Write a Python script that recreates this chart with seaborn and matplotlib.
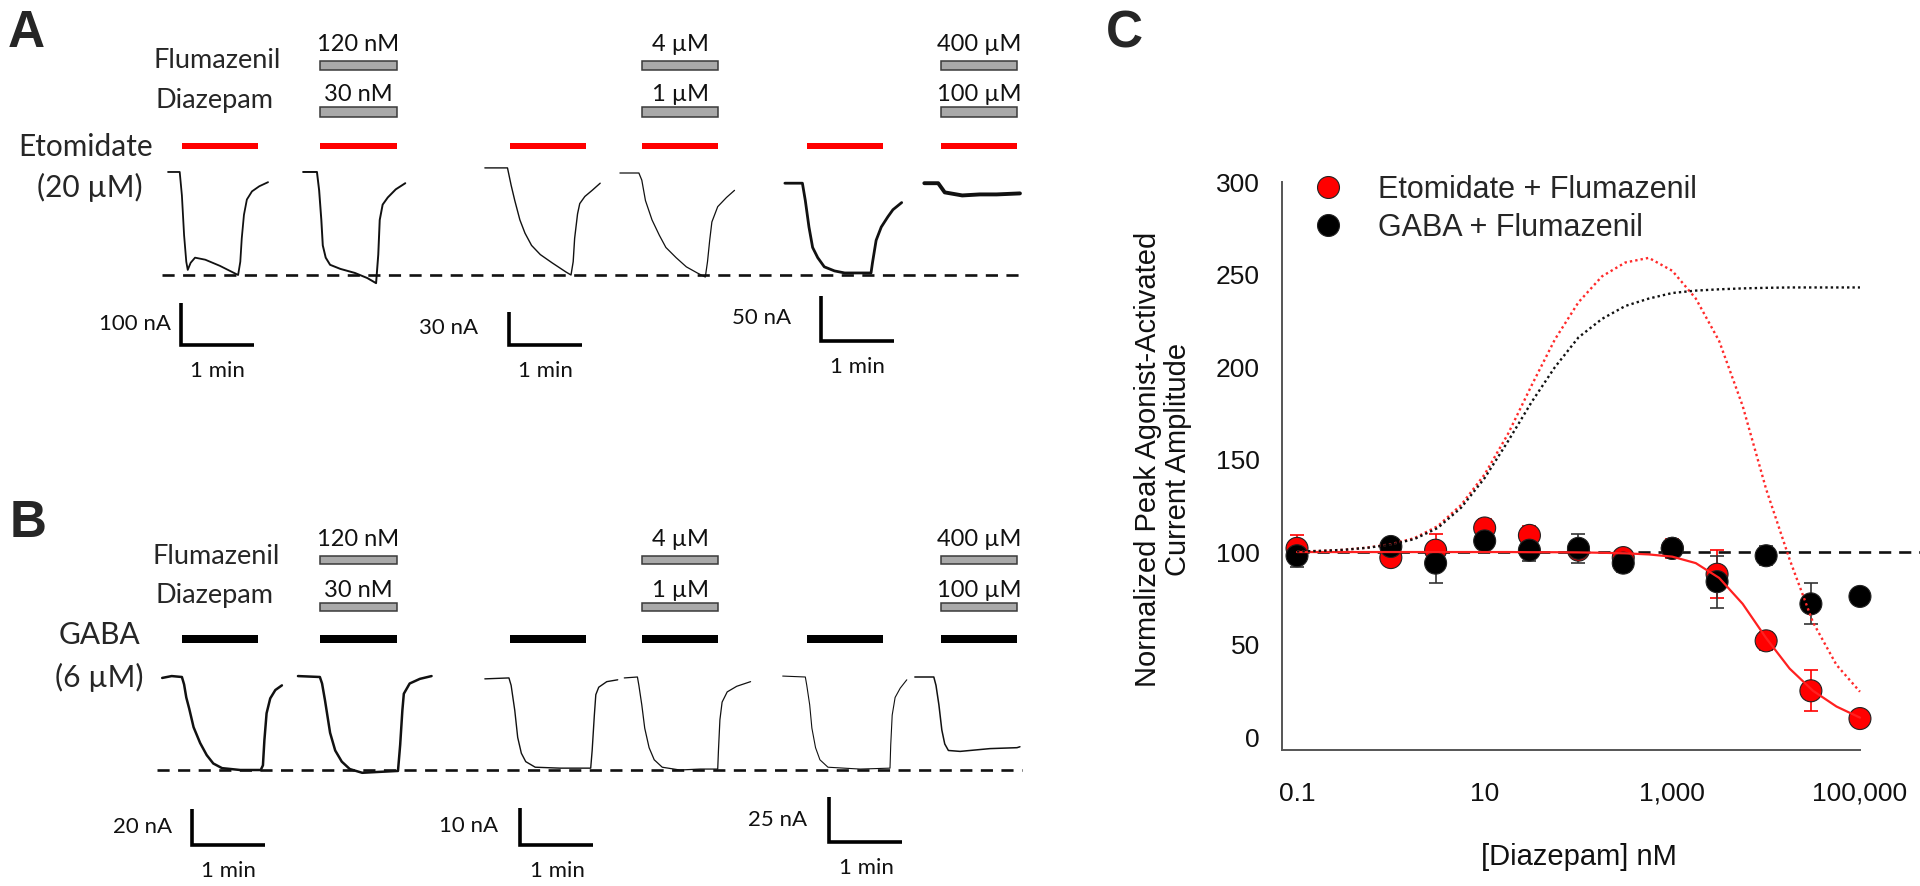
import matplotlib
matplotlib.use("Agg")
import matplotlib.pyplot as plt
from matplotlib.lines import Line2D
import pandas as pd
import seaborn as sns

# ---------------- panel C: diazepam concentration-response ----------------
conc_nm = [0.1, 1, 3, 10, 30, 100, 300, 1000, 3000, 10000, 30000, 100000]
etomidate_mean = [102, 97, 101, 113, 109, 101, 97, 102, 88, 52, 25, 10]
etomidate_sd = [7, 4, 9, 5, 5, 4, 4, 5, 13, 5, 11, 2]
gaba_mean = [98, 103, 94, 106, 101, 102, 94, 102, 84, 98, 72, 76]
gaba_sd = [6, 4, 11, 4, 6, 8, 5, 4, 14, 5, 11, 0]

# fitted / predicted curves at quarter decades
fit_conc = [0.1, 0.178, 0.316, 0.562, 1, 1.78, 3.16, 5.62, 10, 17.8, 31.6, 56.2,
            100, 178, 316, 562, 1000, 1780, 3160, 5620, 10000, 17800, 31600, 56200, 100000]
etomidate_fit = [100, 100, 100, 100, 100, 100, 100, 100, 100, 100, 99.9, 99.9,
                 99.8, 99.6, 99.3, 98.7, 97.5, 94, 86, 72, 53.5, 37, 25, 16.5, 10.5]
etomidate_predicted = [100.3, 100.6, 101.2, 102.4, 104.2, 107.5, 114, 125.5, 142, 164, 190, 215,
                       235, 249, 256.5, 259, 252, 237, 214, 179, 134, 96, 62, 39, 24.5]
gaba_predicted = [100.3, 100.6, 101.2, 102.3, 104, 107, 113, 124, 140, 160, 181, 200,
                  216, 226, 233, 237, 240, 241.3, 242, 242.5, 242.8, 243, 243, 243, 243]

# ---------------- panels A/B: current traces ----------------
# time in min, current as a fraction of the control peak (negative = inward)
etomidate_t = [
    [0.11, 0.27, 0.30, 0.33, 0.36, 0.38, 0.42, 0.48, 0.62, 0.82, 1.07, 1.10, 1.12, 1.15, 1.19, 1.26, 1.36, 1.48],
    [1.96, 2.15, 2.18, 2.21, 2.23, 2.27, 2.33, 2.47, 2.67, 2.84, 2.96, 2.99, 3.01, 3.05, 3.12, 3.23, 3.36],
    [4.45, 4.76, 4.81, 4.86, 4.93, 5.00, 5.09, 5.21, 5.37, 5.56, 5.63, 5.66, 5.68, 5.72, 5.75, 5.82, 5.92, 6.03],
    [6.30, 6.56, 6.60, 6.65, 6.74, 6.84, 6.93, 7.07, 7.21, 7.36, 7.47, 7.50, 7.53, 7.56, 7.64, 7.76, 7.87],
    [8.56, 8.80, 8.84, 8.89, 8.94, 9.01, 9.10, 9.24, 9.38, 9.74, 9.76, 9.81, 9.88, 9.97, 10.04, 10.16],
    [10.47, 10.66, 10.70, 10.75, 10.99, 11.23, 11.46, 11.78],
]
etomidate_i = [
    [0.01, 0.01, -0.22, -0.61, -0.87, -0.95, -0.88, -0.83, -0.85, -0.91, -1.00, -0.87, -0.64, -0.41, -0.26, -0.18, -0.13, -0.09],
    [0.01, 0.01, -0.17, -0.46, -0.71, -0.83, -0.90, -0.94, -0.98, -1.03, -1.08, -0.80, -0.46, -0.31, -0.24, -0.16, -0.10],
    [0.05, 0.05, -0.12, -0.27, -0.46, -0.59, -0.71, -0.80, -0.88, -0.97, -1.00, -0.87, -0.64, -0.40, -0.30, -0.23, -0.17, -0.10],
    [0.00, 0.00, -0.07, -0.27, -0.46, -0.61, -0.73, -0.83, -0.92, -0.98, -1.02, -0.87, -0.66, -0.48, -0.33, -0.24, -0.17],
    [-0.10, -0.10, -0.27, -0.53, -0.73, -0.83, -0.92, -0.96, -0.98, -0.98, -0.88, -0.66, -0.53, -0.43, -0.36, -0.29],
    [-0.10, -0.10, -0.14, -0.19, -0.22, -0.21, -0.21, -0.20],
]
gaba_t = [
    [0.03, 0.16, 0.30, 0.33, 0.36, 0.40, 0.46, 0.55, 0.64, 0.73, 0.85, 1.10, 1.38, 1.41, 1.43, 1.46, 1.51, 1.58, 1.67],
    [1.89, 2.19, 2.22, 2.26, 2.33, 2.40, 2.49, 2.60, 2.77, 3.01, 3.26, 3.29, 3.32, 3.34, 3.42, 3.56, 3.72],
    [4.45, 4.78, 4.81, 4.86, 4.90, 4.95, 5.01, 5.14, 5.48, 5.90, 5.92, 5.95, 5.97, 6.01, 6.12, 6.27],
    [6.36, 6.54, 6.56, 6.60, 6.64, 6.70, 6.77, 6.88, 7.12, 7.40, 7.64, 7.65, 7.67, 7.70, 7.77, 7.90, 8.09],
    [8.53, 8.84, 8.86, 8.90, 8.93, 8.98, 9.04, 9.15, 9.59, 10.00, 10.01, 10.03, 10.07, 10.14, 10.23],
    [10.34, 10.60, 10.63, 10.67, 10.71, 10.75, 10.80, 10.96, 11.37, 11.74, 11.78],
]
gaba_i = [
    [-0.01, 0.01, 0.00, -0.08, -0.22, -0.34, -0.54, -0.71, -0.84, -0.93, -0.98, -1.00, -1.00, -0.95, -0.68, -0.39, -0.23, -0.14, -0.09],
    [0.01, 0.00, -0.07, -0.25, -0.60, -0.79, -0.91, -0.99, -1.03, -1.02, -1.01, -0.73, -0.36, -0.18, -0.07, -0.02, 0.01],
    [-0.02, -0.01, -0.09, -0.36, -0.65, -0.82, -0.91, -0.97, -0.98, -0.98, -0.79, -0.41, -0.19, -0.11, -0.05, -0.03],
    [-0.01, 0.00, -0.09, -0.30, -0.55, -0.76, -0.89, -0.97, -1.00, -0.99, -0.99, -0.79, -0.46, -0.27, -0.16, -0.10, -0.05],
    [0.01, 0.00, -0.09, -0.30, -0.55, -0.76, -0.89, -0.97, -0.99, -0.98, -0.73, -0.41, -0.22, -0.12, -0.03],
    [0.00, 0.00, -0.09, -0.30, -0.57, -0.72, -0.79, -0.80, -0.77, -0.76, -0.75],
]

# drug applications (min); every second one is with flumazenil + diazepam
app_on = [0.30, 2.19, 4.79, 6.60, 8.86, 10.70]
app_off = [1.34, 3.25, 5.83, 7.65, 9.91, 11.74]
flumazenil_labels = ["120 nM", "4 µM", "400 µM"]
diazepam_labels = ["30 nM", "1 µM", "100 µM"]

# scale bars: bar size and the control peak of each recording (nA)
etomidate_scale_nA = [100, 30, 50]
etomidate_peak_nA = [244, 92, 113]
gaba_scale_nA = [20, 10, 25]
gaba_peak_nA = [51, 25, 52]

# ---------------- layout (pixels of the 1920x886 canvas) ----------------
FIG_W, FIG_H = 1920, 886
T0_PX, PX_PER_MIN = 160, 73
LATO = ["Lato", "DejaVu Sans"]
ARIAL = ["Liberation Sans", "DejaVu Sans"]

sns.set_style("white")
plt.rcParams["font.family"] = ARIAL

fig = plt.figure(figsize=(FIG_W / 100, FIG_H / 100), dpi=100)


def fig_text(x, y, s, **kw):
    fig.text(x / FIG_W, 1 - y / FIG_H, s, va="baseline", **kw)


def trace_panel(top, bottom, base_px, unit_px, traces_t, traces_i, widths, agonist_color,
                rows, scale_nA, peak_nA, bar_corners, nA_gaps, dash_start):
    ax = fig.add_axes([0, 1 - bottom / FIG_H, 1040 / FIG_W, (bottom - top) / FIG_H])
    ax.set_xlim(-T0_PX / PX_PER_MIN, (1040 - T0_PX) / PX_PER_MIN)
    ax.set_ylim((base_px - bottom) / unit_px, (base_px - top) / unit_px)
    ax.axis("off")

    def y_of(px):
        return (base_px - px) / unit_px

    for t, i, lw in zip(traces_t, traces_i, widths):
        ax.plot(t, i, color="#111111", lw=lw, solid_joinstyle="round")

    # control peak reference
    ax.hlines(-1, dash_start, 11.81, color="#111111", lw=1.9, linestyles=[(0, (4.6, 3.2))])

    # agonist bars on every application
    dur = [b - a for a, b in zip(app_on, app_off)]
    ay, ah = rows["agonist"]
    ax.barh(y_of(ay), dur, left=app_on, height=ah / unit_px, color=agonist_color, lw=0)

    # flumazenil + diazepam bars on the second application of each pair
    co_on = app_on[1::2]
    co_dur = dur[1::2]
    for key, labels, gap in [("flumazenil", flumazenil_labels, 10), ("diazepam", diazepam_labels, 6)]:
        ry, rh = rows[key]
        ax.barh(y_of(ry), co_dur, left=co_on, height=rh / unit_px,
                color="#a9a9a9", edgecolor="#3a3a3a", lw=1.1)
        for a, d, lab in zip(co_on, co_dur, labels):
            ax.annotate(lab, xy=(a + d / 2, y_of(ry - rh / 2)), xytext=(0, gap),
                        textcoords="offset pixels", ha="center", va="baseline",
                        fontsize=17, family=LATO, color="#111111")

    # scale bars
    for (t0, cy), n, peak, gap in zip(bar_corners, scale_nA, peak_nA, nA_gaps):
        y0 = y_of(cy)
        h = n / peak
        ax.plot([t0, t0, t0 + 1], [y0 + h, y0, y0], color="black", lw=2.6,
                solid_joinstyle="miter", solid_capstyle="butt")
        ax.annotate(f"{n} nA", xy=(t0, y0 + h / 2), xytext=(-gap, 0), textcoords="offset pixels",
                    ha="right", va="center", fontsize=16, family=LATO, color="#111111")
        ax.annotate("1 min", xy=(t0 + 0.5, y0), xytext=(0, -26), textcoords="offset pixels",
                    ha="center", va="center", fontsize=16, family=LATO, color="#111111")
    return ax


# ---------------- panel A: etomidate ----------------
trace_panel(0, 440, 173, 102, etomidate_t, etomidate_i, [1.3, 1.4, 1.0, 0.9, 2.0, 2.8], "#ff0000",
            {"agonist": (146, 6.5), "diazepam": (112, 9.5), "flumazenil": (65.5, 9.5)},
            etomidate_scale_nA, etomidate_peak_nA,
            [(0.288, 345), (4.778, 345), (9.055, 341)], [10, 31, 30], 0.03)

# ---------------- panel B: GABA ----------------
trace_panel(443, 886, 677, 93, gaba_t, gaba_i, [1.8, 1.8, 1.0, 0.9, 0.8, 1.1], "#000000",
            {"agonist": (639, 8), "diazepam": (607, 8.5), "flumazenil": (560, 8.5)},
            gaba_scale_nA, gaba_peak_nA,
            [(0.438, 845), (4.938, 845), (9.171, 842)], [20, 22, 22], -0.04)

fig_text(8, 47, "A", fontsize=37, fontweight="bold", family=ARIAL)
fig_text(217, 68, "Flumazenil", fontsize=19.5, family=LATO, ha="center")
fig_text(214, 108, "Diazepam", fontsize=19.5, family=LATO, ha="center")
fig_text(86, 156, "Etomidate", fontsize=21.5, family=LATO, ha="center")
fig_text(90, 197, "(20 µM)", fontsize=21.5, family=LATO, ha="center")

fig_text(10, 537, "B", fontsize=37, fontweight="bold", family=ARIAL)
fig_text(216, 564, "Flumazenil", fontsize=19.5, family=LATO, ha="center")
fig_text(214, 603, "Diazepam", fontsize=19.5, family=LATO, ha="center")
fig_text(99, 644, "GABA", fontsize=21.5, family=LATO, ha="center")
fig_text(99, 687, "(6 µM)", fontsize=21.5, family=LATO, ha="center")

fig_text(1106, 47, "C", fontsize=37, fontweight="bold", family=ARIAL)

# ---------------- panel C axes ----------------
ax = fig.add_axes([1282 / FIG_W, 1 - 750 / FIG_H, (FIG_W - 1282) / FIG_W, (750 - 182) / FIG_H])
ax.set_xscale("log")
x_lo, x_hi = 10 ** -1.16, 10 ** 5.64
ax.set_xlim(x_lo, x_hi)
ax.set_ylim(-7, 300)

ETOM_RED = "#ff0000"
ax.errorbar(conc_nm, etomidate_mean, yerr=etomidate_sd, fmt="none", ecolor=ETOM_RED,
            elinewidth=1.2, capsize=5, capthick=1.2, zorder=2)
ax.errorbar(conc_nm, gaba_mean, yerr=gaba_sd, fmt="none", ecolor="#333333",
            elinewidth=1.2, capsize=5, capthick=1.2, zorder=2.1)

ax.hlines(100, 0.1, x_hi, color="#111111", lw=1.9, linestyles=[(0, (4.6, 3.0))], zorder=2.5)

points = pd.DataFrame({
    "conc": conc_nm + conc_nm,
    "response": etomidate_mean + gaba_mean,
    "agonist": ["Etomidate + Flumazenil"] * len(conc_nm) + ["GABA + Flumazenil"] * len(conc_nm),
})
sns.scatterplot(data=points, x="conc", y="response", hue="agonist",
                palette={"Etomidate + Flumazenil": ETOM_RED, "GABA + Flumazenil": "#000000"},
                s=250, edgecolor="#222222", linewidth=0.8, legend=False, zorder=3, ax=ax)

sns.lineplot(x=fit_conc, y=etomidate_fit, color="#ff2020", lw=1.6, zorder=5, ax=ax)
sns.lineplot(x=fit_conc, y=etomidate_predicted, color="#ff2a2a", lw=1.7,
             linestyle=(0, (1, 1.3)), zorder=5, ax=ax)
sns.lineplot(x=fit_conc, y=gaba_predicted, color="#111111", lw=1.7,
             linestyle=(0, (1, 1.3)), zorder=5, ax=ax)

# detached-looking axes
for side in ["top", "right"]:
    ax.spines[side].set_visible(False)
ax.spines["left"].set_bounds(-7, 300)
ax.spines["bottom"].set_bounds(x_lo, 1e5)
for side in ["left", "bottom"]:
    ax.spines[side].set_color("#555555")
    ax.spines[side].set_linewidth(1.4)

ax.set_yticks([0, 50, 100, 150, 200, 250, 300])
ax.set_xticks([0.1, 1, 10, 100, 1000, 10000, 100000])
ax.set_xticklabels(["0.1", "", "10", "", "1,000", "", "100,000"])
ax.minorticks_off()
ax.tick_params(axis="y", length=10, width=1.3, color="#555555", pad=6, labelsize=19, labelcolor="#111111")
ax.tick_params(axis="x", length=11, width=1.3, color="#555555", pad=12, labelsize=19, labelcolor="#111111")
ax.set_xlabel("[Diazepam] nM", fontsize=21, color="#111111", va="center")
ax.xaxis.set_label_coords(0.4655, -0.188)
ax.set_ylabel("Normalized Peak Agonist-Activated\nCurrent Amplitude", fontsize=21,
              color="#111111", linespacing=1.1, va="center")
ax.yaxis.set_label_coords(-0.1865, 0.512)

handles = [
    Line2D([0], [0], marker="o", ls="none", markersize=15.8, markerfacecolor=ETOM_RED,
           markeredgecolor="#222222", markeredgewidth=0.8),
    Line2D([0], [0], marker="o", ls="none", markersize=15.8, markerfacecolor="#000000",
           markeredgecolor="#222222", markeredgewidth=0.8),
]
ax.legend(handles, ["Etomidate + Flumazenil", "GABA + Flumazenil"], loc="upper left",
          bbox_to_anchor=(1313 / FIG_W, 1 - 175 / FIG_H), bbox_transform=fig.transFigure,
          frameon=False, fontsize=22, handlelength=1.0, handletextpad=1.14,
          labelspacing=0.25, borderpad=0, borderaxespad=0)

fig.savefig("out.png", dpi=100)
